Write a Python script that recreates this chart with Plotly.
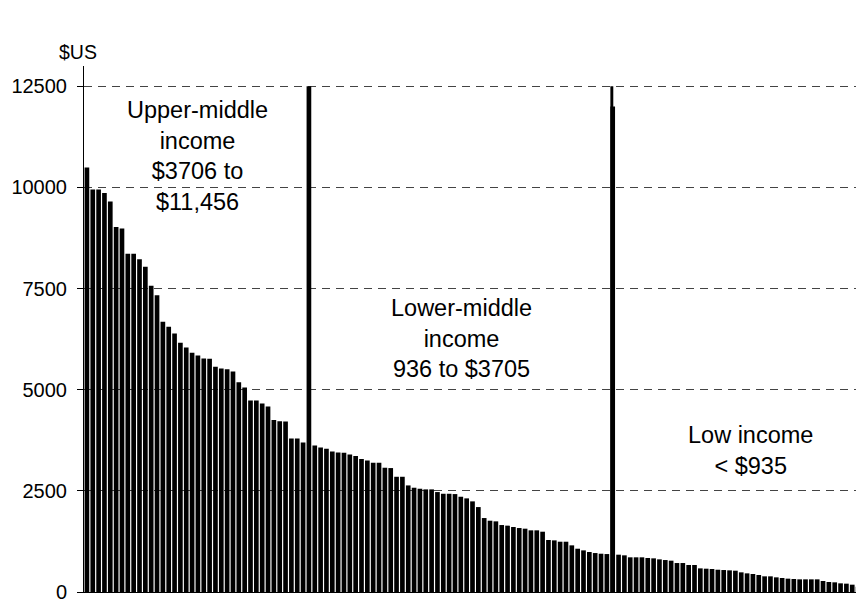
import plotly.graph_objects as go

# ── bar heights ($US, richest first) ─────────────────────────
upper_middle = [10490, 9946, 9946, 9864, 9650, 9024, 8983, 8357, 8357, 8225,
                8036, 7567, 7336, 6677, 6553, 6390, 6158, 6043, 5911, 5846,
                5772, 5764, 5566, 5525, 5508, 5450, 5184, 5056, 4735, 4731,
                4661, 4587, 4248, 4220, 4216, 3796, 3796, 3697]
lower_middle = [3623, 3574, 3540, 3475, 3450, 3442, 3401, 3359, 3285, 3253,
                3195, 3195, 3071, 3063, 2848, 2848, 2634, 2577, 2552, 2536,
                2536, 2470, 2428, 2428, 2420, 2354, 2314, 2240, 2099, 1828,
                1762, 1746, 1655, 1640, 1606, 1581, 1565, 1524, 1524, 1490,
                1285, 1276, 1243, 1243, 1153, 1070, 1029, 988, 963, 946, 938]
low_income = [922, 906, 857, 857, 857, 840, 832, 807, 790, 774,
              716, 716, 667, 667, 584, 576, 568, 551, 543, 535,
              527, 486, 461, 445, 420, 387, 387, 362, 346, 330,
              321, 313, 313, 313, 313, 272, 247, 239, 214, 206, 181, 132]
# divider bars between the groups
divider_1 = 12500
divider_2 = 12000
divider_top = 12500

group_labels = ["Upper-middle<br>income<br>$3706 to<br>$11,456",
                "Lower-middle<br>income<br>936 to $3705",
                "Low income<br>< $935"]
label_x = [18.9, 64.2, 113.5]
label_y = [10770, 6262, 3507]

y_ticks = [0, 2500, 5000, 7500, 10000, 12500]

values = upper_middle + [divider_1] + lower_middle + [divider_2] + low_income
xs = list(range(len(values)))
div2_x = len(upper_middle) + 1 + len(lower_middle)

FONT = "Arial, Liberation Sans, sans-serif"

fig = go.Figure()
fig.add_trace(go.Bar(x=xs, y=values, marker=dict(color="black", line_width=0),
                     showlegend=False, hoverinfo="y"))
# the second divider has a taller narrow part on its left
fig.add_trace(go.Bar(x=[div2_x], y=[divider_top], width=0.5, offset=-0.4,
                     marker=dict(color="black", line_width=0),
                     showlegend=False, hoverinfo="y"))

for txt, ax, ay in zip(group_labels, label_x, label_y):
    fig.add_annotation(x=ax, y=ay, text=txt, showarrow=False,
                       font=dict(family=FONT, size=23.5, color="black"))

fig.add_annotation(xref="paper", yref="paper", x=-0.0077, y=1.0266,
                   xanchor="center", yanchor="middle",
                   text="$US", showarrow=False,
                   font=dict(family=FONT, size=19.5, color="black"))

# page body adds an 8px margin, so the plot area is shifted to compensate
fig.update_layout(
    width=856, height=602,
    margin=dict(l=74, r=3, t=58, b=18),
    paper_bgcolor="white", plot_bgcolor="white",
    barmode="overlay", bargap=0.2,
    font=dict(family=FONT, color="black"),
)
fig.update_xaxes(range=[-0.5, len(values) - 0.5], showticklabels=False,
                 ticks="", showgrid=False, zeroline=False,
                 showline=True, linecolor="black", linewidth=1)
fig.update_yaxes(range=[0, 13000], tickvals=y_ticks, tickformat="d",
                 tickfont=dict(family=FONT, size=20, color="black"),
                 ticks="outside", ticklen=6, tickcolor="black",
                 ticklabelstandoff=6, ticklabeloverflow="allow",
                 showgrid=True, gridcolor="#444444", gridwidth=1,
                 griddash="8px,6px", zeroline=False,
                 showline=True, linecolor="black", linewidth=1)

fig.write_html("out.html")
